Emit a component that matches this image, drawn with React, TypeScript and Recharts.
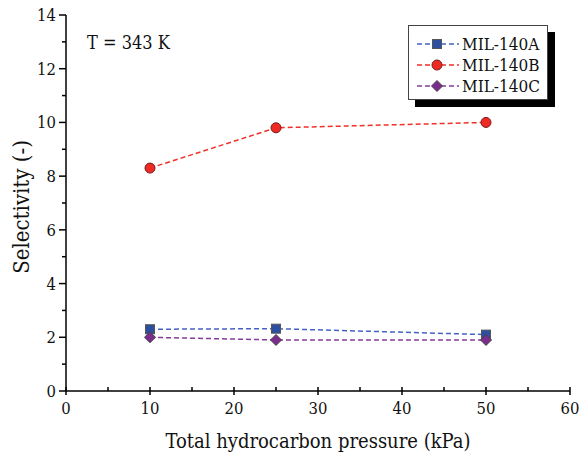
import { LineChart, Line, XAxis, YAxis, Legend } from 'recharts';

const pressure = [10, 25, 50];
const mil140A = [2.3, 2.32, 2.1];
const mil140B = [8.3, 9.8, 10.0];
const mil140C = [2.0, 1.9, 1.9];
const xTicks = [0, 5, 10, 15, 20, 25, 30, 35, 40, 45, 50, 55, 60];
const yTicks = [0, 1, 2, 3, 4, 5, 6, 7, 8, 9, 10, 11, 12, 13, 14];

const data = pressure.map((p, i) => ({
  p,
  a: mil140A[i],
  b: mil140B[i],
  c: mil140C[i]
}));

const FONT = "'DejaVu Serif Condensed', 'DejaVu Serif', serif";
const TXT = { fontFamily: FONT, fontStretch: 'condensed' } as const;

const series = [
  { key: 'a', name: 'MIL-140A', line: '#4463c0', fill: '#2e4fa0', stroke: '#555', shape: 'square' },
  { key: 'b', name: 'MIL-140B', line: '#f0302a', fill: '#ee2a24', stroke: '#7a1a1a', shape: 'circle' },
  { key: 'c', name: 'MIL-140C', line: '#8a3a9a', fill: '#7b2d8e', stroke: '#444', shape: 'diamond' }
];

const Marker = ({ cx, cy, shape, fill, stroke }: any) => {
  if (cx == null || cy == null) return null;
  if (shape === 'square') {
    return <rect x={cx - 4.5} y={cy - 4.5} width={9} height={9} fill={fill} stroke={stroke} strokeWidth={1} />;
  }
  if (shape === 'diamond') {
    return (
      <polygon
        points={`${cx},${cy - 5.5} ${cx + 5.5},${cy} ${cx},${cy + 5.5} ${cx - 5.5},${cy}`}
        fill={fill}
        stroke={stroke}
        strokeWidth={1}
      />
    );
  }
  return <circle cx={cx} cy={cy} r={5} fill={fill} stroke={stroke} strokeWidth={1} />;
};

const XTick = ({ x, y, payload }: any) => {
  const major = payload.value % 10 === 0;
  return (
    <g>
      {major ? (
        <line x1={x} x2={x} y1={y - 4} y2={y + 4} stroke="#000" strokeWidth={1.5} />
      ) : (
        <line x1={x} x2={x} y1={y} y2={y - 4} stroke="#000" strokeWidth={1.5} />
      )}
      {major && (
        <text x={x} y={y + 23} textAnchor="middle" style={TXT} fontSize={16.5} fill="#111">
          {payload.value}
        </text>
      )}
    </g>
  );
};

const YTick = ({ x, y, payload }: any) => {
  const major = payload.value % 2 === 0;
  return (
    <g>
      <line x1={x} x2={x - (major ? 7 : 4)} y1={y} y2={y} stroke="#000" strokeWidth={1.5} />
      {major && (
        <text x={x - 10} y={y + 6} textAnchor="end" style={TXT} fontSize={16.5} fill="#111">
          {payload.value}
        </text>
      )}
    </g>
  );
};

const YLabel = ({ viewBox }: any) => {
  const cy = viewBox.y + viewBox.height / 2 + 4;
  return (
    <text x={21} y={cy} transform={`rotate(-90 21 ${cy})`} textAnchor="middle" dominantBaseline="central" style={TXT} fontSize={22} fill="#111">
      Selectivity (-)
    </text>
  );
};

const XLabel = ({ viewBox }: any) => {
  const cx = viewBox.x + viewBox.width / 2;
  return (
    <text x={cx} y={viewBox.y + 57} textAnchor="middle" style={TXT} fontSize={20} fill="#111">
      Total hydrocarbon pressure (kPa)
    </text>
  );
};

const LegendBox = () => (
  <div
    style={{
      width: 140,
      height: 75,
      border: '1px solid #444',
      background: '#fff',
      boxShadow: '7px 7px 0 #000',
      boxSizing: 'border-box',
      paddingTop: 7,
      ...TXT,
      fontSize: 17,
      color: '#111'
    }}
  >
    {series.map(s => (
      <div key={s.key} style={{ display: 'flex', alignItems: 'center', height: 21 }}>
        <svg width={46} height={16} style={{ marginLeft: 6 }}>
          <line x1={2} x2={44} y1={8} y2={8} stroke={s.line} strokeWidth={1.5} strokeDasharray="5 3" />
          <Marker cx={22} cy={8} shape={s.shape} fill={s.fill} stroke={s.stroke} />
        </svg>
        <span style={{ marginLeft: 1 }}>{s.name}</span>
      </div>
    ))}
  </div>
);

export default function App() {
  return (
    <div style={{ position: 'absolute', left: 0, top: 0, width: 579, height: 452, background: '#fff' }}>
      <LineChart width={579} height={452} data={data} margin={{ top: 15, right: 9, left: 0, bottom: 0 }}>
        <XAxis
          dataKey="p"
          type="number"
          domain={[0, 60]}
          ticks={xTicks}
          interval={0}
          height={61}
          tickSize={0}
          tickMargin={0}
          tickLine={false}
          axisLine={{ stroke: '#000', strokeWidth: 1.5 }}
          tick={<XTick />}
          label={<XLabel />}
        />
        <XAxis xAxisId="top" dataKey="p" type="number" domain={[0, 60]} orientation="top" height={0} tick={false} tickLine={false} axisLine={{ stroke: '#000', strokeWidth: 1.5 }} />
        <YAxis
          type="number"
          domain={[0, 14]}
          ticks={yTicks}
          interval={0}
          width={66}
          tickSize={0}
          tickMargin={0}
          tickLine={false}
          axisLine={{ stroke: '#000', strokeWidth: 1.5 }}
          tick={<YTick />}
          label={<YLabel />}
        />
        <YAxis yAxisId="right" type="number" domain={[0, 14]} orientation="right" width={0} tick={false} tickLine={false} axisLine={{ stroke: '#000', strokeWidth: 1.5 }} />
        <Legend layout="vertical" align="center" verticalAlign="middle" content={<LegendBox />} wrapperStyle={{ top: 25, left: 408, width: 140 }} />
        {series.map(s => (
          <Line
            key={s.key}
            type="linear"
            dataKey={s.key}
            name={s.name}
            stroke={s.line}
            strokeWidth={1.5}
            strokeDasharray="5 3"
            isAnimationActive={false}
            dot={(props: any) => <Marker key={`${s.key}-${props.index}`} cx={props.cx} cy={props.cy} shape={s.shape} fill={s.fill} stroke={s.stroke} />}
          />
        ))}
      </LineChart>
      <div style={{ position: 'absolute', left: 87, top: 32, ...TXT, fontSize: 18, color: '#111' }}>T = 343 K</div>
    </div>
  );
}
